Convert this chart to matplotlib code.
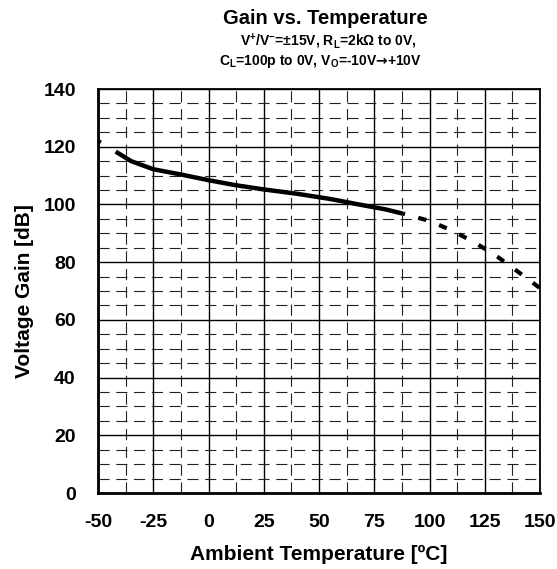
import numpy as np
import matplotlib
matplotlib.use("Agg")
import matplotlib.pyplot as plt
from matplotlib.ticker import MultipleLocator

plt.rcParams["font.family"] = ["Liberation Sans", "DejaVu Sans"]
plt.rcParams["font.weight"] = "bold"
plt.rcParams["axes.unicode_minus"] = False
plt.rcParams["mathtext.fontset"] = "custom"
plt.rcParams["mathtext.rm"] = "Liberation Sans:bold"
plt.rcParams["mathtext.it"] = "Liberation Sans:bold"
plt.rcParams["mathtext.bf"] = "Liberation Sans:bold"
plt.rcParams["mathtext.sf"] = "DejaVu Sans:bold"

# measured curve (solid)
temp_meas = [-42, -35, -25, -12, 0, 12, 25, 40, 55, 70, 80, 88]
gain_meas = [118.3, 115.0, 112.2, 110.3, 108.4, 106.7, 105.2, 103.7, 101.9, 99.7, 98.3, 96.8]

# extrapolated parts (dashed)
temp_ext_low = [-50, -42]
gain_ext_low = [122.0, 118.3]
temp_ext_high = [88, 100, 110, 120, 130, 140, 150]
gain_ext_high = [96.8, 94.3, 91.0, 87.0, 82.3, 76.7, 71.0]

x_ticks = [-50, -25, 0, 25, 50, 75, 100, 125, 150]
y_ticks = [0, 20, 40, 60, 80, 100, 120, 140]

fig = plt.figure(figsize=(5.57, 5.69), dpi=100)
ax = fig.add_axes([98 / 557, 1 - 493 / 569, 442 / 557, 404 / 569])

ax.set_xlim(-50, 150)
ax.set_ylim(0, 140)
ax.set_xticks(x_ticks)
ax.set_yticks(y_ticks)
ax.xaxis.set_minor_locator(MultipleLocator(12.5))
ax.yaxis.set_minor_locator(MultipleLocator(5))

ax.grid(which="major", color="black", lw=1.0)
ax.grid(which="minor", color="#222222", lw=0.8, linestyle=(0, (10, 6)))
ax.set_axisbelow(True)

ax.tick_params(which="both", length=0)
ax.tick_params(axis="x", pad=15, labelsize=14)
ax.tick_params(axis="y", pad=16, labelsize=14)
for lbl in ax.get_xticklabels() + ax.get_yticklabels():
    lbl.set_fontweight("bold")

for side in ["left", "bottom"]:
    ax.spines[side].set_linewidth(2.0)
for side in ["top", "right"]:
    ax.spines[side].set_linewidth(1.3)

ax.plot(temp_meas, gain_meas, color="black", lw=3.2, solid_capstyle="butt")
ax.plot(temp_ext_low, gain_ext_low, color="black", lw=3.0, linestyle=(0, (0.8, 6)),
        dash_capstyle="butt", clip_on=False)
ax.plot(temp_ext_high, gain_ext_high, color="black", lw=3.0, linestyle=(1.5, (2.0, 3.3)),
        dash_capstyle="butt", clip_on=True)

ax.set_xlabel("Ambient Temperature [ºC]", fontsize=15, fontweight="bold", labelpad=10)
ax.set_ylabel("Voltage Gain [dB]", fontsize=15, fontweight="bold", labelpad=7)

fig.text(325 / 557, 1 - 18 / 569, "Gain vs. Temperature", ha="center", va="center",
         fontsize=14.5, fontweight="bold")
fig.text(328 / 557, 1 - 41 / 569, r"V$^{+}$/V$^{-}$=±15V, R$_{L}$=2kΩ to 0V,",
         ha="center", va="center", fontsize=10, fontweight="bold")
fig.text(320 / 557, 1 - 62 / 569, r"C$_{L}$=100p to 0V, V$_{O}$=-10V$\mathsf{→}$+10V",
         ha="center", va="center", fontsize=10, fontweight="bold")

fig.savefig("out.png", dpi=100)
